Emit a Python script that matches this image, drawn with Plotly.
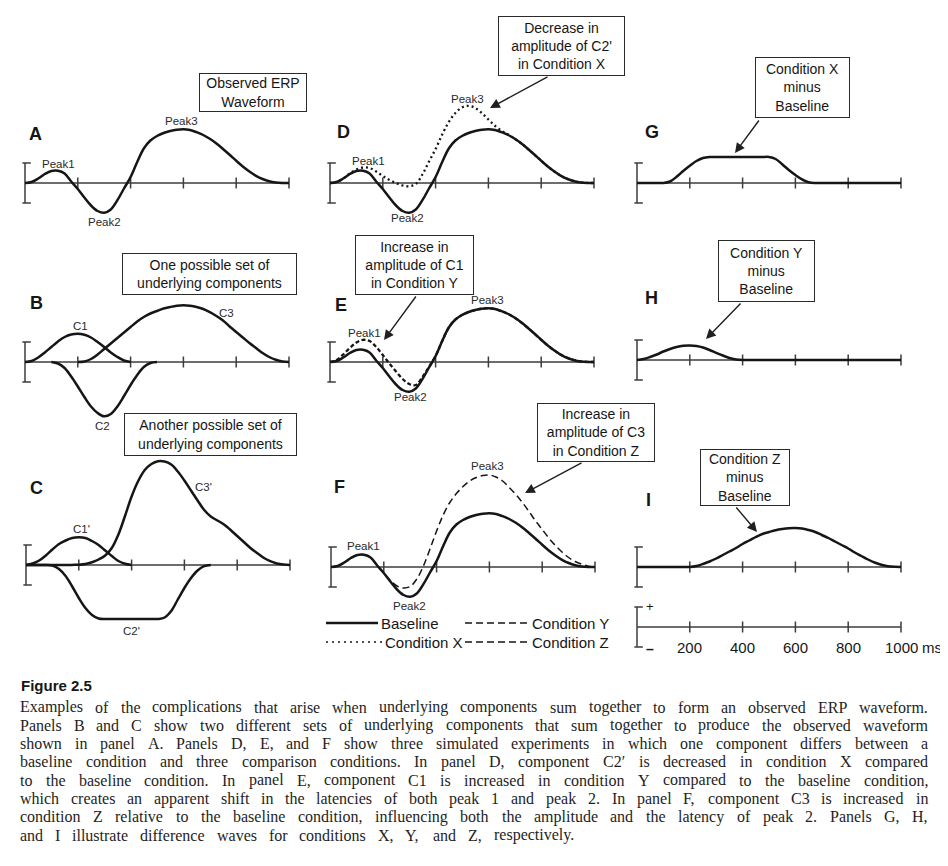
import plotly.graph_objects as go

# The page body has an 8 px margin, so the figure is drawn 8 px in from the window corner.
PAGE_OFFSET = 8
FIG_W, FIG_H = 948 - PAGE_OFFSET, 866 - PAGE_OFFSET

# ---------------- data (time in ms, amplitude in arbitrary units; scale bar = +/-2) -------------
TIME_MS = list(range(0, 1001, 25))
TICK_MS = [0, 200, 400, 600, 800, 1000]
TICK_LABELS = ["200", "400", "600", "800", "1000"]

BASELINE = [0, 0.1, 0.45, 0.9, 1.2, 1.22, 0.95, 0.15, -0.6, -1.45,
            -2.25, -2.8, -2.98, -2.65, -1.72, -0.55, 0.6, 2.1, 3.45, 4.25,
            4.7, 5.0, 5.2, 5.33, 5.38, 5.3, 5.08, 4.8, 4.42, 3.95,
            3.4, 2.82, 2.22, 1.65, 1.15, 0.72, 0.4, 0.18, 0.06, 0.01, 0]
COND_X = [0, 0.1, 0.45, 0.95, 1.35, 1.55, 1.5, 1.15, 0.7, 0.3,
          0.0, -0.25, -0.33, -0.1, 0.85, 2.15, 3.4, 4.85, 6.1, 7.0,
          7.55, 7.72, 7.5, 7.0, 6.35, 5.72, 5.22, 4.85, 4.42, 3.95,
          3.4, 2.82, 2.22, 1.65, 1.15, 0.72, 0.4, 0.18, 0.06, 0.01, 0]
COND_Y = [0, 0.2, 0.75, 1.4, 1.95, 2.22, 2.1, 1.5, 0.7, -0.15,
          -0.95, -1.7, -2.2, -2.3, -1.5, -0.48, 0.6, 2.1, 3.45, 4.25,
          4.7, 5.0, 5.2, 5.33, 5.38, 5.3, 5.08, 4.8, 4.42, 3.95,
          3.4, 2.82, 2.22, 1.65, 1.15, 0.72, 0.4, 0.18, 0.06, 0.01, 0]
COND_Z = [0, 0.1, 0.45, 0.9, 1.2, 1.22, 0.95, 0.15, -0.6, -1.35,
          -1.9, -2.1, -1.95, -1.2, 0.1, 1.8, 3.6, 5.2, 6.45, 7.35,
          8.05, 8.6, 8.95, 9.15, 9.2, 9.0, 8.6, 7.95, 7.25, 6.45,
          5.55, 4.6, 3.75, 2.9, 2.15, 1.5, 0.95, 0.55, 0.28, 0.08, 0]
DIFF_X = [0, 0, 0, 0, 0, 0.15, 0.62, 1.2, 1.72, 2.2,
          2.5, 2.6, 2.6, 2.6, 2.6, 2.6, 2.6, 2.6, 2.6, 2.6,
          2.6, 2.4, 1.88, 1.3, 0.8, 0.37, 0.08, 0, 0, 0,
          0, 0, 0, 0, 0, 0, 0, 0, 0, 0, 0]
DIFF_Y = [0, 0.1, 0.3, 0.55, 0.85, 1.1, 1.3, 1.42, 1.45, 1.4,
          1.25, 1.0, 0.72, 0.45, 0.2, 0.06, 0, 0, 0, 0,
          0, 0, 0, 0, 0, 0, 0, 0, 0, 0,
          0, 0, 0, 0, 0, 0, 0, 0, 0, 0, 0]
DIFF_Z = [0, 0, 0, 0, 0, 0, 0, 0, 0, 0.1,
          0.3, 0.55, 0.85, 1.2, 1.55, 1.9, 2.3, 2.65, 3.0, 3.3,
          3.5, 3.68, 3.8, 3.88, 3.9, 3.85, 3.7, 3.5, 3.2, 2.9,
          2.55, 2.2, 1.85, 1.45, 1.1, 0.75, 0.45, 0.22, 0.08, 0.02, 0]

C1_MS = TIME_MS[0:17]      # 0..400
C1 = [0, 0.1, 0.45, 0.95, 1.5, 2.05, 2.5, 2.75, 2.83, 2.72, 2.45, 2.0, 1.5, 0.95, 0.5, 0.15, 0]
C2_MS = TIME_MS[4:21]      # 100..500
C2 = [0, -0.15, -0.6, -1.45, -2.45, -3.5, -4.45, -5.1, -5.43, -5.2, -4.45, -3.4, -2.3, -1.3, -0.5, -0.1, 0]
C3_MS = TIME_MS[8:]        # 200..1000
C3 = [0, 0.05, 0.3, 0.75, 1.3, 1.85, 2.4, 2.95, 3.5, 4.05,
      4.5, 4.85, 5.1, 5.35, 5.5, 5.62, 5.67, 5.62, 5.5, 5.3,
      4.98, 4.6, 4.15, 3.55, 3.0, 2.45, 1.9, 1.4, 0.9, 0.5,
      0.22, 0.05, 0]

C1P_MS = TIME_MS[0:17]     # 0..400
C1P = [0, 0.15, 0.45, 0.95, 1.55, 2.1, 2.45, 2.7, 2.77, 2.7, 2.4, 2.0, 1.45, 0.9, 0.4, 0.12, 0]
C2P_MS = TIME_MS[0:29]     # 0..700
C2P = [0, 0, 0, 0, -0.05, -0.4, -1.1, -2.15, -3.3, -4.3,
       -5.0, -5.35, -5.4, -5.4, -5.4, -5.4, -5.4, -5.4, -5.4, -5.4,
       -5.4, -5.25, -4.6, -3.45, -2.3, -1.3, -0.55, -0.12, 0]
C3P_MS = TIME_MS
C3P = [0, 0, 0, 0, 0, 0, 0, 0.01, 0.03, 0.1,
       0.28, 0.55, 0.95, 1.7, 3.05, 4.9, 6.85, 8.4, 9.5, 10.1,
       10.38, 10.35, 10.05, 9.35, 8.45, 7.45, 6.45, 5.5, 4.85, 4.45,
       4.05, 3.5, 2.9, 2.3, 1.7, 1.2, 0.72, 0.38, 0.15, 0.04, 0]

for arr in (BASELINE, COND_X, COND_Y, COND_Z, DIFF_X, DIFF_Y, DIFF_Z, C3P):
    assert len(arr) == len(TIME_MS)
assert len(C1) == len(C1_MS) and len(C2) == len(C2_MS) and len(C3) == len(C3_MS)
assert len(C1P) == len(C1P_MS) and len(C2P) == len(C2P_MS)

CAPTION_TITLE = "Figure 2.5"
CAPTION_LINES = [
    "Examples of the complications that arise when underlying components sum together to form an observed ERP waveform.",
    "Panels B and C show two different sets of underlying components that sum together to produce the observed waveform",
    "shown in panel A. Panels D, E, and F show three simulated experiments in which one component differs between a",
    "baseline condition and three comparison conditions. In panel D, component C2\u2032 is decreased in condition X compared",
    "to the baseline condition. In panel E, component C1 is increased in condition Y compared to the baseline condition,",
    "which creates an apparent shift in the latencies of both peak 1 and peak 2. In panel F, component C3 is increased in",
    "condition Z relative to the baseline condition, influencing both the amplitude and the latency of peak 2. Panels G, H,",
    "and I illustrate difference waves for conditions X, Y, and Z, respectively.",
]

# ---------------- styling / layout ----------------
INK = "#161616"
AXIS_INK = "#3d3d3d"
SANS = "Liberation Sans, Arial, Helvetica, sans-serif"
SERIF = "Liberation Serif, Times New Roman, serif"

PX_PER_MS = 0.264
PX_PER_UNIT = 10.0
X_RANGE = (-60, 1060)
Y_RANGE = (-7, 11.5)
BAR_H, TICK_H, CAP_L, CAP_R = 2.0, 0.55, 10, 22

# panel name, left pixel of 0 ms, pixel row of the zero line (window pixels)
PANELS = [("A", 25, 183), ("D", 330, 183), ("G", 637, 183),
          ("B", 25, 362), ("E", 330, 362), ("H", 637, 360),
          ("C", 26, 565), ("F", 331, 567), ("I", 637, 567),
          ("S", 637, 627)]

SOLID = dict(color=INK, width=2.5)
DOT_X = dict(color=INK, width=2.3, dash="2px,3px")
DASH_Y = dict(color=INK, width=2.3, dash="4px,2.5px")
DASH_Z = dict(color=INK, width=1.5, dash="7px,4px")

CURVES = {
    "A": [(TIME_MS, BASELINE, SOLID)],
    "B": [(C1_MS, C1, SOLID), (C2_MS, C2, SOLID), (C3_MS, C3, SOLID)],
    "C": [(C1P_MS, C1P, SOLID), (C2P_MS, C2P, SOLID), (C3P_MS, C3P, SOLID)],
    "D": [(TIME_MS, COND_X, DOT_X), (TIME_MS, BASELINE, SOLID)],
    "E": [(TIME_MS, COND_Y, DASH_Y), (TIME_MS, BASELINE, SOLID)],
    "F": [(TIME_MS, COND_Z, DASH_Z), (TIME_MS, BASELINE, SOLID)],
    "G": [(TIME_MS, DIFF_X, SOLID)],
    "H": [(TIME_MS, DIFF_Y, SOLID)],
    "I": [(TIME_MS, DIFF_Z, SOLID)],
    "S": [],
}


def px_x(x):
    return (x - PAGE_OFFSET) / FIG_W


def px_y(y):
    return 1 - (y - PAGE_OFFSET) / FIG_H


fig = go.Figure()
layout_axes = {}
axis_ids = {}
for idx, (name, x0, zy) in enumerate(PANELS, start=1):
    sfx = "" if idx == 1 else str(idx)
    axis_ids[name] = ("x" + sfx, "y" + sfx)
    layout_axes["xaxis" + sfx] = dict(
        domain=[px_x(x0 + X_RANGE[0] * PX_PER_MS), px_x(x0 + X_RANGE[1] * PX_PER_MS)],
        range=list(X_RANGE), visible=False, fixedrange=True, anchor="y" + sfx)
    layout_axes["yaxis" + sfx] = dict(
        domain=[px_y(zy - Y_RANGE[0] * PX_PER_UNIT), px_y(zy - Y_RANGE[1] * PX_PER_UNIT)],
        range=list(Y_RANGE), visible=False, fixedrange=True, anchor="x" + sfx)

    # axis scaffold: zero line, ticks, calibration bar
    sx, sy = [TICK_MS[0], TICK_MS[-1], None], [0, 0, None]
    for t in TICK_MS[1:]:
        sx += [t, t, None]
        sy += [-TICK_H, TICK_H, None]
    sx += [0, 0, None, -CAP_L, CAP_R, None, -CAP_L, CAP_R]
    sy += [-BAR_H, BAR_H, None, BAR_H, BAR_H, None, -BAR_H, -BAR_H]
    fig.add_trace(go.Scatter(x=sx, y=sy, mode="lines", xaxis="x" + sfx, yaxis="y" + sfx,
                             line=dict(color=AXIS_INK, width=1.5), hoverinfo="skip",
                             showlegend=False, connectgaps=False))

for name, x0, zy in PANELS:
    xa, ya = axis_ids[name]
    for xs, ys, style in CURVES[name]:
        fig.add_trace(go.Scatter(x=xs, y=ys, mode="lines", xaxis=xa, yaxis=ya,
                                 line=dict(shape="spline", smoothing=1.0, **style),
                                 hoverinfo="skip", showlegend=False))

ann = []


def text_at(txt, x, y, size, family=SANS, xanchor="center", color=INK):
    ann.append(dict(text=txt, x=px_x(x), y=px_y(y), xref="paper", yref="paper",
                    showarrow=False, xanchor=xanchor, yanchor="middle",
                    borderpad=0, font=dict(family=family, size=size, color=color)))


# panel letters
LETTER_POS = {"A": (35, 134), "D": (343, 132), "G": (652, 132),
              "B": (36, 303), "E": (341, 305), "H": (651, 298),
              "C": (36, 488), "F": (339, 487), "I": (648, 500)}
for k, (x, y) in LETTER_POS.items():
    text_at("<b>%s</b>" % k, x, y, 18)

# peak / component labels
LABELS = [("Peak1", 58, 164), ("Peak2", 104, 222), ("Peak3", 181, 121),
          ("Peak1", 368, 161), ("Peak2", 407, 218), ("Peak3", 467, 99),
          ("Peak1", 364, 333), ("Peak2", 410, 397), ("Peak3", 488, 300),
          ("Peak1", 363, 546), ("Peak2", 409, 606), ("Peak3", 487, 466),
          ("C1", 80, 326), ("C2", 102, 426), ("C3", 226, 313),
          ("C1'", 81, 529), ("C2'", 131, 631), ("C3'", 203, 487)]
for t, x, y in LABELS:
    text_at(t, x, y, 11.5, color="#2a2a2a")

# boxed notes
BOXES = [
    ("Observed ERP<br>Waveform", 199, 73, 307, 112),
    ("Decrease in<br>amplitude of C2'<br>in Condition X", 498, 16, 625, 76),
    ("Condition X<br>minus<br>Baseline", 755, 57, 850, 118),
    ("One possible set of<br>underlying components", 122, 253, 297, 295),
    ("Another possible set of<br>underlying components", 124, 413, 297, 456),
    ("Increase in<br>amplitude of C1<br>in Condition Y", 355, 235, 474, 295),
    ("Condition Y<br>minus<br>Baseline", 718, 240, 815, 302),
    ("Increase in<br>amplitude of C3<br>in Condition Z", 537, 403, 655, 462),
    ("Condition Z<br>minus<br>Baseline", 700, 449, 790, 506),
]
for txt, bx0, by0, bx1, by1 in BOXES:
    ann.append(dict(text=txt, x=px_x((bx0 + bx1) / 2), y=px_y((by0 + by1) / 2),
                    xref="paper", yref="paper", showarrow=False,
                    xanchor="center", yanchor="middle", align="center", valign="middle",
                    width=bx1 - bx0 - 2, height=by1 - by0 - 2,
                    bordercolor="#2a2a2a", borderwidth=1, borderpad=0, bgcolor="white",
                    font=dict(family=SANS, size=14, color=INK)))

# arrows (start -> tip)
ARROWS = [((549, 76), (490, 108)), ((760, 119), (735, 153)),
          ((417, 295), (384, 340)), ((742, 302), (706, 339)),
          ((583, 462), (525, 493)), ((735, 506), (757, 532))]
for (sx_, sy_), (tx, ty) in ARROWS:
    ann.append(dict(text="", x=px_x(tx), y=px_y(ty), xref="paper", yref="paper",
                    ax=sx_ - tx, ay=sy_ - ty, axref="pixel", ayref="pixel",
                    showarrow=True, arrowhead=2, arrowsize=1.4, arrowwidth=1.4,
                    arrowcolor="#202020", standoff=0, startstandoff=0))

# legend (below panel F)
LEGEND = [("Baseline", 326, 378, 623, dict(color=INK, width=2.5)),
          ("Condition X", 326, 382, 642, dict(color=INK, width=1.5, dash="2px,4px")),
          ("Condition Y", 465, 529, 623, dict(color=INK, width=1.5, dash="7px,4px")),
          ("Condition Z", 465, 529, 642, dict(color=INK, width=1.5, dash="7px,4px"))]
for label, lx0, lx1, ly, lstyle in LEGEND:
    fig.add_shape(type="line", xref="paper", yref="paper", x0=px_x(lx0), x1=px_x(lx1),
                  y0=px_y(ly), y1=px_y(ly), line=lstyle)
    text_at(label, lx1 + 2, ly, 15, xanchor="left")

# scale panel labels
xs_, ys_ = axis_ids["S"]
for t, lab in zip(TICK_MS[1:], TICK_LABELS):
    ann.append(dict(text=lab, x=t, y=-2.0, xref=xs_, yref=ys_, showarrow=False,
                    xanchor="center", yanchor="middle", borderpad=0,
                    font=dict(family=SANS, size=15, color=INK)))
text_at("ms", 921, 647, 15, xanchor="left")
text_at("+", 650, 606, 13)
text_at("<b>\u2013</b>", 650, 649, 14)

# caption
text_at("<b>%s</b>" % CAPTION_TITLE, 20, 685, 15, xanchor="left")

TNR = {' ': 250, 'a': 444, 'b': 500, 'c': 444, 'd': 500, 'e': 444, 'f': 333, 'g': 500,
       'h': 500, 'i': 278, 'j': 278, 'k': 500, 'l': 278, 'm': 778, 'n': 500, 'o': 500,
       'p': 500, 'q': 500, 'r': 333, 's': 389, 't': 278, 'u': 500, 'v': 500, 'w': 722,
       'x': 500, 'y': 500, 'z': 444, 'A': 722, 'B': 667, 'C': 667, 'D': 722, 'E': 611,
       'F': 556, 'G': 722, 'H': 722, 'I': 333, 'J': 389, 'K': 722, 'L': 611, 'M': 889,
       'N': 722, 'O': 722, 'P': 556, 'Q': 722, 'R': 667, 'S': 556, 'T': 611, 'U': 722,
       'V': 722, 'W': 944, 'X': 722, 'Y': 722, 'Z': 611, '.': 250, ',': 250,
       '\u2032': 275}
CAP_FS = 16
CAP_LEFT, CAP_TOP, CAP_STEP = 20, 707, 18.3
LINE_WIDTHS = [908, 908, 908, 908, 908, 908, 908, 555]


def word_width(w):
    return sum(TNR.get(ch, 500) for ch in w) / 1000.0 * CAP_FS


for i, line in enumerate(CAPTION_LINES):
    words = line.split(" ")
    widths = [word_width(w) for w in words]
    gap = (LINE_WIDTHS[i] - sum(widths)) / max(len(words) - 1, 1)
    x = CAP_LEFT
    y = CAP_TOP + i * CAP_STEP
    for w, ww in zip(words, widths):
        ann.append(dict(text=w, x=px_x(x), y=px_y(y), xref="paper", yref="paper",
                        showarrow=False, xanchor="left", yanchor="middle",
                        borderpad=0, borderwidth=0,
                        font=dict(family=SERIF, size=CAP_FS, color="#1e1e1e")))
        x += ww + gap

fig.update_layout(
    width=FIG_W, height=FIG_H, margin=dict(l=0, r=0, t=0, b=0, pad=0),
    paper_bgcolor="white", plot_bgcolor="rgba(0,0,0,0)",
    showlegend=False, annotations=ann, **layout_axes)

fig.write_html("out.html", config={"displayModeBar": False})
